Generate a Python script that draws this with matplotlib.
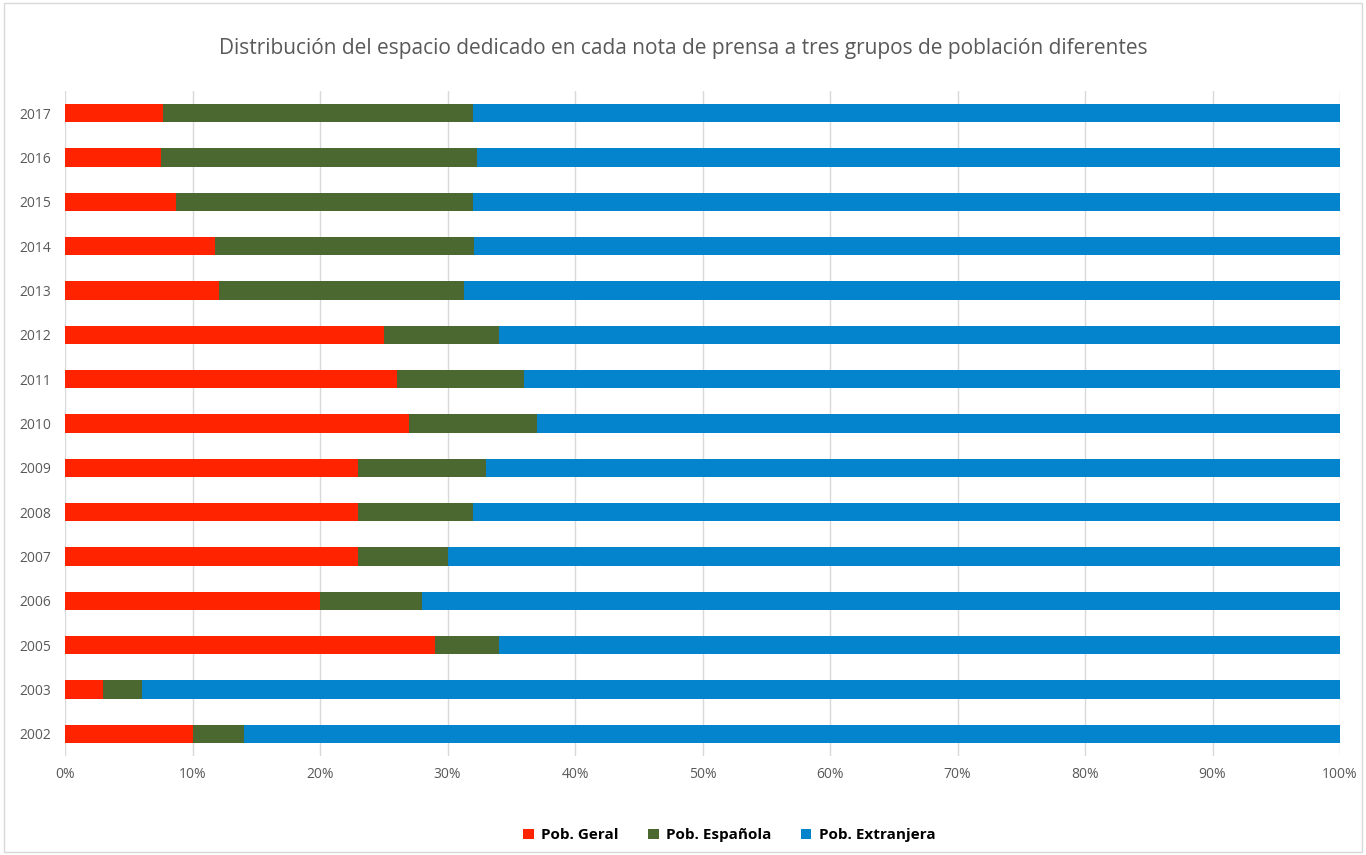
import numpy as np
import matplotlib.pyplot as plt
from matplotlib.ticker import PercentFormatter

years = ['2002', '2003', '2005', '2006', '2007', '2008', '2009', '2010',
         '2011', '2012', '2013', '2014', '2015', '2016', '2017']
geral = [10, 3, 29, 20, 23, 23, 23, 27, 26, 25, 12.1, 11.8, 8.7, 7.5, 7.7]
espanola = [4, 3, 5, 8, 7, 9, 10, 10, 10, 9, 19.2, 20.3, 23.3, 24.8, 24.3]
extranjera = [100 - g - e for g, e in zip(geral, espanola)]

labels = ['Pob. Geral', 'Pob. Española', 'Pob. Extranjera']
colors = ['#FF2300', '#4A6830', '#0584CE']

plt.rcParams['font.family'] = ['Open Sans', 'DejaVu Sans']

fig = plt.figure(figsize=(13.66, 8.55), dpi=100)
ax = fig.add_axes([0.0476, 0.1158, 0.9334, 0.7778])

y = np.arange(len(years))
left = np.zeros(len(years))
for vals, lab, col in zip([geral, espanola, extranjera], labels, colors):
    ax.barh(y, vals, left=left, height=0.41, color=col, label=lab, zorder=2)
    left += np.array(vals)

ax.set_xlim(0, 100)
ax.set_ylim(-0.5, len(years) - 0.5)
ax.set_yticks(y)
ax.set_yticklabels(years)
ax.set_xticks(np.arange(0, 101, 10))
ax.xaxis.set_major_formatter(PercentFormatter(decimals=0))
ax.tick_params(length=0, labelsize=10, colors='#595959', pad=8)
ax.tick_params(axis='y', pad=10)
ax.grid(axis='x', color='#D9D9D9', linewidth=1, zorder=0)
for s in ax.spines.values():
    s.set_visible(False)

fig.suptitle('Distribución del espacio dedicado en cada nota de prensa a tres grupos de población diferentes',
             y=0.955, fontsize=15, color='#595959')

leg = fig.legend(loc='center', bbox_to_anchor=(0.534, 0.023), ncol=3, frameon=False,
                 handlelength=0.7, handleheight=0.7, handletextpad=0.5, columnspacing=1.9,
                 prop={'size': 11, 'weight': 'bold'})

fig.patches.append(plt.Rectangle((0.003, 0.003), 0.994, 0.994, transform=fig.transFigure,
                                 fill=False, edgecolor='#D9D9D9', linewidth=1))

fig.savefig('out.png', dpi=100)
